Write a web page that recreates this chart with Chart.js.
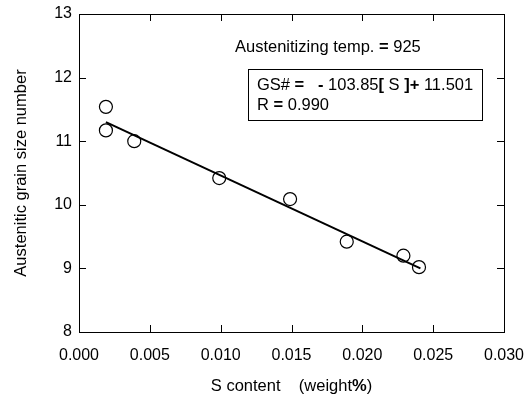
<!DOCTYPE html>
<html>
<head>
<meta charset="utf-8">
<script src="https://cdn.jsdelivr.net/npm/chart.js@4"></script>
<style>
  html, body { margin: 0; padding: 0; background: #fff; }
  #wrap { width: 532px; height: 397px; }
</style>
</head>
<body>
<div id="wrap"><canvas id="grainChart" width="532" height="397"></canvas></div>
<script>
// Datos
const sContent = [0.0019, 0.0019, 0.0039, 0.0099, 0.0149, 0.0189, 0.0229, 0.0240];
const grainSize = [11.54, 11.17, 11.00, 10.42, 10.09, 9.42, 9.20, 9.02];

// Recta de regresión (extremos)
const fitX = [0.0019, 0.0241];
const fitY = [11.30, 9.00];

const xTicks = [0.000, 0.005, 0.010, 0.015, 0.020, 0.025, 0.030];
const yTicks = [8, 9, 10, 11, 12, 13];

const FONT = 'Liberation Sans, Arial, sans-serif';

// Marco, marcas hacia adentro y anotaciones
const framePlugin = {
  id: 'frame',
  afterDraw(chart) {
    const ctx = chart.ctx;
    const a = chart.chartArea;
    const xs = chart.scales.x;
    const ys = chart.scales.y;
    const len = 7;
    ctx.save();
    ctx.strokeStyle = '#000';
    ctx.lineWidth = 1;
    ctx.strokeRect(a.left + 0.5, a.top + 0.5, a.right - a.left, a.bottom - a.top);
    ctx.beginPath();
    xTicks.slice(1, -1).forEach(v => {
      const px = Math.round(xs.getPixelForValue(v)) + 0.5;
      ctx.moveTo(px, a.bottom); ctx.lineTo(px, a.bottom - len);
      ctx.moveTo(px, a.top); ctx.lineTo(px, a.top + len);
    });
    yTicks.slice(1, -1).forEach(v => {
      const py = Math.round(ys.getPixelForValue(v)) + 0.5;
      ctx.moveTo(a.left, py); ctx.lineTo(a.left + len, py);
      ctx.moveTo(a.right, py); ctx.lineTo(a.right - len, py);
    });
    ctx.stroke();

    // Texto de temperatura
    ctx.fillStyle = '#000';
    ctx.textBaseline = 'middle';
    ctx.textAlign = 'left';
    drawParts(ctx, 235, 47, [['Austenitizing temp. ', false], ['=', true], [' 925', false]], 16.5);

    // Recuadro con la ecuación
    ctx.lineWidth = 1;
    ctx.strokeRect(248.5, 69.5, 234, 51);
    drawParts(ctx, 257, 85, [['GS# ', false], ['=', true], ['   ', false], ['-', true], [' 103.85', false],
      ['[', true], [' S ', false], [']', true], ['+', true], [' 11.501', false]], 16.5);
    drawParts(ctx, 257, 105, [['R ', false], ['=', true], [' 0.990', false]], 16.5);

    // Título del eje X
    const parts = [['S content    (weight', false], ['%', true], [')', false]];
    let w = 0;
    parts.forEach(p => { ctx.font = (p[1] ? 'bold ' : '') + '16.5px ' + FONT; w += ctx.measureText(p[0]).width; });
    drawParts(ctx, (a.left + a.right) / 2 - w / 2, 386, parts, 16.5);
    ctx.restore();
  }
};

function drawParts(ctx, x, y, parts, size) {
  let cx = x;
  parts.forEach(p => {
    ctx.font = (p[1] ? 'bold ' : '') + size + 'px ' + FONT;
    ctx.fillText(p[0], cx, y);
    cx += ctx.measureText(p[0]).width;
  });
}

new Chart(document.getElementById('grainChart'), {
  type: 'scatter',
  data: {
    datasets: [
      {
        label: 'Datos',
        data: sContent.map((x, i) => ({ x: x, y: grainSize[i] })),
        pointStyle: 'circle',
        pointRadius: 6.5,
        pointBorderWidth: 1.2,
        pointBorderColor: '#000',
        pointBackgroundColor: 'rgba(0,0,0,0)',
        showLine: false,
      },
      {
        label: 'Ajuste',
        data: fitX.map((x, i) => ({ x: x, y: fitY[i] })),
        showLine: true,
        pointRadius: 0,
        borderColor: '#000',
        borderWidth: 2,
      },
    ],
  },
  options: {
    responsive: false,
    animation: false,
    layout: { padding: { left: 0, right: 28, top: 14, bottom: 0 } },
    plugins: {
      legend: { display: false },
      tooltip: { enabled: false },
    },
    scales: {
      x: {
        type: 'linear',
        min: 0,
        max: 0.03,
        afterFit(scale) {
          scale.height = 65;
          scale.paddingLeft = 0;
          scale.paddingRight = 0;
        },
        afterBuildTicks(scale) { scale.ticks = xTicks.map(v => ({ value: v })); },
        grid: { display: false, drawTicks: false },
        border: { display: false },
        ticks: {
          padding: 14,
          color: '#000',
          font: { family: FONT, size: 16 },
          callback: v => Number(v).toFixed(3),
          maxRotation: 0,
          autoSkip: false,
        },
      },
      y: {
        min: 8,
        max: 13,
        afterFit(scale) {
          scale.width = 79;
          scale.paddingTop = 0;
          scale.paddingBottom = 0;
        },
        afterBuildTicks(scale) { scale.ticks = yTicks.map(v => ({ value: v })); },
        grid: { display: false, drawTicks: false },
        border: { display: false },
        ticks: {
          padding: 7,
          color: '#000',
          font: { family: FONT, size: 16 },
        },
        title: {
          display: true,
          text: 'Austenitic grain size number',
          color: '#000',
          font: { family: FONT, size: 16.5 },
          padding: { top: 12, bottom: 0 },
        },
      },
    },
  },
  plugins: [framePlugin],
});
</script>
</body>
</html>
